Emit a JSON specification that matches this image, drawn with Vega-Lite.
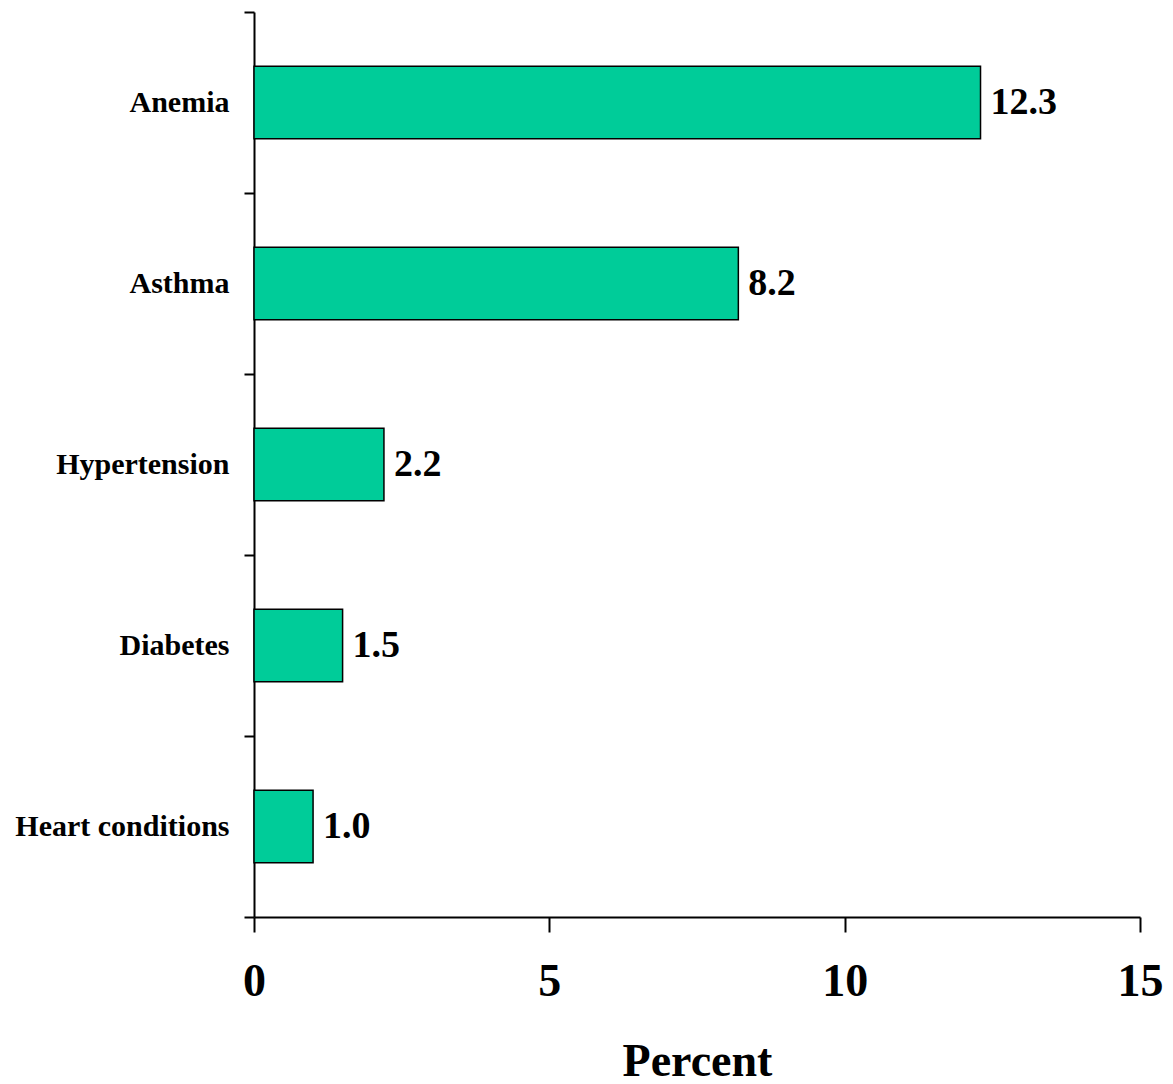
{
  "$schema": "https://vega.github.io/schema/vega-lite/v6.json",
  "autosize": "none",
  "width": 886,
  "height": 905,
  "padding": {"left": 254, "top": 12, "right": 33, "bottom": 167},
  "background": "white",
  "config": {"view": {"stroke": null}, "font": "Liberation Serif"},
  "data": {"values": [
    {"condition": "Anemia", "percent": 12.3, "label": "12.3"},
    {"condition": "Asthma", "percent": 8.2, "label": "8.2"},
    {"condition": "Hypertension", "percent": 2.2, "label": "2.2"},
    {"condition": "Diabetes", "percent": 1.5, "label": "1.5"},
    {"condition": "Heart conditions", "percent": 1.0, "label": "1.0"}
  ]},
  "encoding": {
    "y": {"field": "condition", "type": "nominal", "sort": null,
      "scale": {"paddingInner": 0, "paddingOuter": 0},
      "axis": {"title": null, "tickBand": "extent", "domainColor": "black", "domainWidth": 2, "tickColor": "black", "tickWidth": 2, "tickSize": 10, "labelFont": "Liberation Serif", "labelFontWeight": "bold", "labelFontSize": 30, "labelColor": "black", "labelPadding": 15, "labelLimit": 400}},
    "x": {"field": "percent", "type": "quantitative",
      "scale": {"domain": [0, 15], "nice": false},
      "axis": {"title": "Percent", "values": [0, 5, 10, 15], "grid": false, "labelFlush": false, "domainColor": "black", "domainWidth": 2, "tickColor": "black", "tickWidth": 2, "tickSize": 15, "labelFont": "Liberation Serif", "labelFontWeight": "bold", "labelFontSize": 46, "labelColor": "black", "labelPadding": 27, "titleFont": "Liberation Serif", "titleFontWeight": "bold", "titleFontSize": 46, "titleColor": "black", "titlePadding": 35}}
  },
  "layer": [
    {"mark": {"type": "bar", "color": "#00CC99", "stroke": "black", "strokeWidth": 1.5, "height": {"band": 0.4}}},
    {"mark": {"type": "text", "align": "left", "dx": 10, "font": "Liberation Serif", "fontWeight": "bold", "fontSize": 38, "color": "black"},
     "encoding": {"text": {"field": "label"}}}
  ]
}
